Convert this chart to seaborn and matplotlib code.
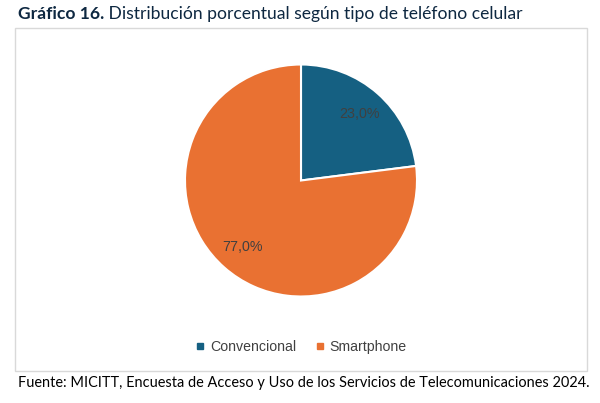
import matplotlib
matplotlib.use("Agg")
import matplotlib.pyplot as plt
import seaborn as sns
from matplotlib.patches import Rectangle
from matplotlib.lines import Line2D

# data
categories = ["Convencional", "Smartphone"]
shares = [23.0, 77.0]
colors = ["#156082", "#E97132"]

title_bold = "Gráfico 16."
title_rest = " Distribución porcentual según tipo de teléfono celular"
source = "Fuente: MICITT, Encuesta de Acceso y Uso de los Servicios de Telecomunicaciones 2024."

sns.set_theme(style="white")
plt.rcParams["font.family"] = ["Liberation Sans", "DejaVu Sans"]

W, H = 600, 403
fig = plt.figure(figsize=(W / 100, H / 100), dpi=100)
fig.patch.set_facecolor("white")

# chart frame
fig.patches.append(Rectangle((14.5 / W, 1 - 370.5 / H), 572 / W, 343 / H,
                             transform=fig.transFigure, fill=False,
                             edgecolor="#D9D9D9", linewidth=1.0))

# pie
cx, cy, r = 301, 180.5, 116
ax = fig.add_axes([(cx - r) / W, 1 - (cy + r) / H, 2 * r / W, 2 * r / H])
wedges, texts, autotexts = ax.pie(
    shares, colors=colors, startangle=90, counterclock=False,
    autopct=lambda p: f"{p:.1f}%".replace(".", ","), pctdistance=0.76,
    wedgeprops=dict(edgecolor="white", linewidth=1.5),
    textprops=dict(color="#404040", fontsize=10.3, family=["Liberation Sans", "DejaVu Sans"]))
ax.set_xlim(-1.0, 1.0)
ax.set_ylim(-1.0, 1.0)
ax.axis("off")

# legend
handles = [Line2D([], [], marker="s", linestyle="none", markersize=4.5,
                  markerfacecolor=c, markeredgecolor=c) for c in colors]
fig.legend(handles, categories, loc="center", bbox_to_anchor=(301 / W, 1 - 347 / H),
           ncol=2, frameon=False, fontsize=10.2, handlelength=0.7, handletextpad=0.35,
           columnspacing=1.3, labelcolor="#404040")

# title with bold prefix
fig.canvas.draw()
t1 = fig.text(18 / W, 1 - 14 / H, title_bold, fontsize=12.6, fontweight="bold",
              color="#0E2841", va="center", ha="left", family=["Lato", "DejaVu Sans"])
renderer = fig.canvas.get_renderer()
bb = t1.get_window_extent(renderer)
fig.text(bb.x1 / W, 1 - 14 / H, title_rest, fontsize=12.6,
         color="#0E2841", va="center", ha="left", family=["Lato", "DejaVu Sans"])

# source note
fig.text(18 / W, 1 - 383 / H, source, fontsize=10.45, color="black",
         va="center", ha="left", family=["Lato", "DejaVu Sans"])

fig.savefig("out.png", dpi=100)
